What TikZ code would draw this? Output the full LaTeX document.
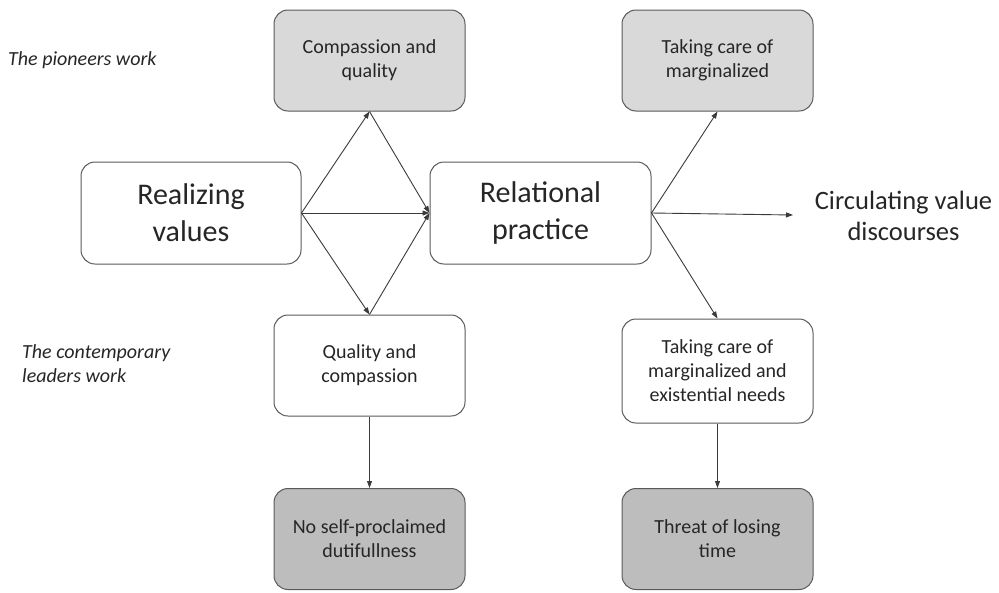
\documentclass[tikz,border=0pt]{standalone}
\usepackage{fontspec}
\setmainfont{Carlito}
\usetikzlibrary{arrows.meta}
\definecolor{boxline}{HTML}{5A5A5A}
\definecolor{lightfill}{HTML}{D9D9D9}
\definecolor{darkfill}{HTML}{BDBDBD}
\definecolor{arrowc}{HTML}{3A3A3A}
\begin{document}
\begin{tikzpicture}[x=1pt,y=-1pt,
  box/.style={draw=boxline, line width=1pt, rounded corners=14pt, align=center, inner sep=0pt,
     minimum width=191pt, minimum height=101pt, font=\fontsize{20}{24}\selectfont, text=black!85},
  bigbox/.style={box, minimum width=220pt, minimum height=102pt, font=\fontsize{30}{37}\selectfont},
  lightbox/.style={box, fill=lightfill},
  darkbox/.style={box, fill=darkfill},
  whitebox/.style={box, fill=white},
  conn/.style={draw=arrowc, line width=0.9pt, -{Triangle[length=7pt,width=5pt]}},
  sidelabel/.style={font=\fontsize{20}{24}\selectfont\itshape, align=left, anchor=west, inner sep=0pt, text=black!85}
]
\useasboundingbox (0,0) rectangle (999,592);
\node[lightbox] (cq) at (369.5,60.5) {Compassion and\\quality};
\node[lightbox] (tm) at (717.5,60.5) {Taking care of\\marginalized};
\node[bigbox, fill=white] (rv) at (191,213) {Realizing\\values};
\node[bigbox, fill=white, minimum width=221pt] (rp) at (540.5,213) {Relational\\practice};
\node[font=\fontsize{26.5}{31}\selectfont, align=center, inner sep=0pt, text=black!85] (cv) at (903.5,216) {Circulating value\\discourses};
\coordinate (cvend) at (793,215);
\node[whitebox] (qc) at (369.5,365.5) {Quality and\\compassion};
\node[whitebox, minimum height=104pt] (te) at (717.5,371) {Taking care of\\marginalized and\\existential needs};
\node[darkbox] (ns) at (369.5,539) {No self-proclaimed\\dutifullness};
\node[darkbox] (tl) at (717.5,539) {Threat of losing\\time};
\node[sidelabel] (pw) at (8,60) {The pioneers work};
\node[sidelabel] (lw) at (22,364) {The contemporary\\leaders work};
\draw[conn] (rv.east) -- (cq.south);
\draw[conn] (rv.east) -- (rp.west);
\draw[conn] (rv.east) -- (qc.north);
\draw[conn] (cq.south) -- (rp.west);
\draw[conn] (qc.north) -- (rp.west);
\draw[conn] (rp.east) -- (tm.south);
\draw[conn] (rp.east) -- (cvend);
\draw[conn] (rp.east) -- (te.north);
\draw[conn] (qc.south) -- (ns.north);
\draw[conn] (te.south) -- (tl.north);
\end{tikzpicture}
\end{document}
